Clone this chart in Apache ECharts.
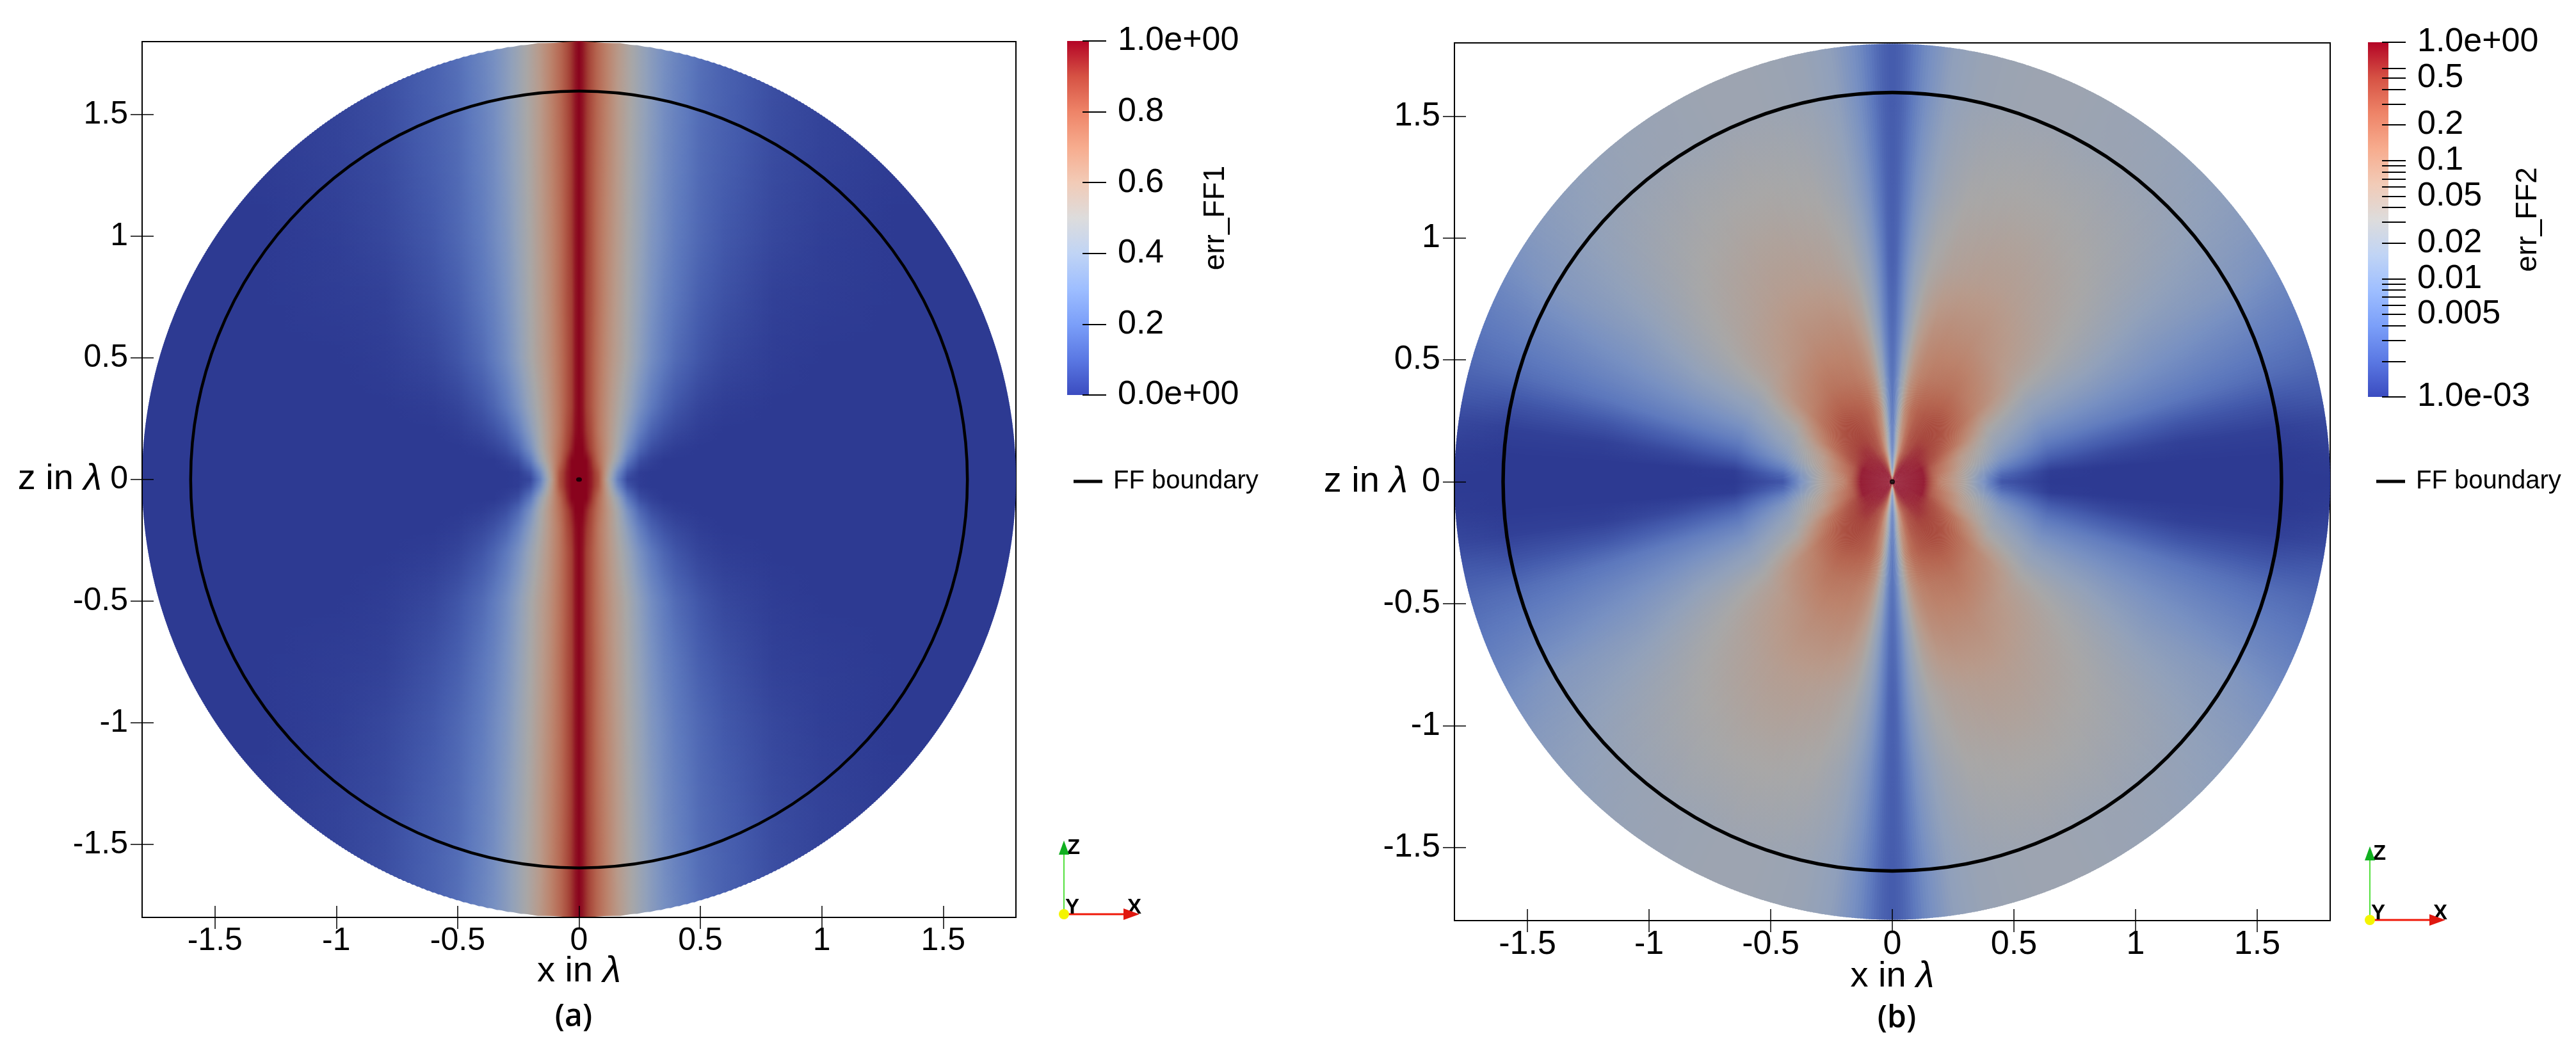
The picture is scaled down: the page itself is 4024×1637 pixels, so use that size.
<!DOCTYPE html>
<html><head><meta charset="utf-8">
<style>html,body{margin:0;padding:0;background:#fff}#c{width:4024px;height:1637px}</style>
<script src="https://cdn.jsdelivr.net/npm/echarts@6/dist/echarts.min.js"></script>
</head><body><div id="c"></div>
<script>
// axis ticks
const tickValues = [-1.5,-1,-0.5,0,0.5,1,1.5];
const ffRadius = 1.6;
const diskRadius = 1.8;
const centerDot = [[0,0]];

// panel (a): err_FF1 read at |x| (columns) and |z| (rows), one quadrant, mirrored
const xA = [0,.015,.03,.05,.08,.12,.16,.2,.25,.3,.35,.4,.5,.6,.8,1.0,1.3,1.8];
const zA = [0,.03,.08,.13,.2,.3,.5,.75,1.0,1.3,1.6,1.8];
const errA = [
 [1,1,1,.96,.85,.52,.22,.04,.01,0,0,0,0,0,0,0,0,0],
 [1,1,1,.96,.84,.55,.27,.08,.01,0,0,0,0,0,0,0,0,0],
 [1,1,1,.93,.78,.60,.42,.20,.06,.02,0,0,0,0,0,0,0,0],
 [1,1,.95,.88,.76,.62,.48,.30,.14,.06,.03,.01,0,0,0,0,0,0],
 [1,.98,.92,.86,.74,.62,.50,.37,.22,.12,.07,.04,.01,0,0,0,0,0],
 [1,.97,.90,.84,.74,.63,.53,.43,.30,.20,.13,.08,.03,.01,0,0,0,0],
 [1,.97,.90,.84,.75,.65,.57,.49,.38,.28,.21,.15,.08,.04,.01,0,0,0],
 [1,.97,.90,.85,.76,.66,.58,.50,.40,.31,.24,.19,.11,.07,.02,.01,0,0],
 [1,.97,.91,.85,.76,.67,.59,.51,.42,.33,.27,.21,.14,.09,.04,.015,0,0],
 [1,.97,.91,.85,.77,.68,.60,.52,.43,.35,.28,.23,.15,.11,.05,.025,.005,0],
 [1,.97,.92,.86,.78,.69,.60,.53,.44,.36,.29,.24,.16,.12,.06,.03,.01,0],
 [1,.97,.92,.86,.78,.69,.61,.53,.44,.36,.30,.25,.17,.12,.06,.03,.01,0]
];

// panel (b): err_FF2, position on the log colour bar, read at angle (rows, degrees from the x axis) and radius (columns)
const thetaB = [0,4,8,12,16,20,25,30,35,40,45,50,55,60,65,70,75,78,80,82,84,85.5,87,88,89,90];
const radiusB = [0,.03,.06,.13,.17,.2,.3,.45,.65,.9,1.2,1.6,1.8];
const errB = [
 [1,1,1,1,.83,.72,.52,.08,0,0,0,0,0],
 [1,1,1,1,.83,.72,.52,.15,.01,0,0,0,.01],
 [1,1,1,1,.83,.74,.53,.25,.09,.05,.02,.02,.04],
 [1,1,1,1,.84,.77,.56,.33,.17,.13,.09,.08,.1],
 [1,1,1,1,.85,.78,.58,.38,.24,.22,.19,.16,.15],
 [1,1,1,1,.86,.8,.6,.42,.3,.28,.25,.21,.19],
 [1,1,1,1,.89,.84,.66,.46,.37,.35,.31,.27,.24],
 [1,1,1,.98,.91,.87,.74,.52,.42,.41,.36,.34,.3],
 [1,1,1,.98,.92,.89,.78,.6,.49,.46,.41,.37,.35],
 [1,1,1,.97,.93,.9,.82,.68,.55,.5,.45,.4,.38],
 [1,1,1,.97,.94,.91,.84,.71,.59,.53,.48,.42,.4],
 [1,1,1,.96,.94,.91,.86,.73,.62,.55,.5,.43,.42],
 [1,1,1,.95,.93,.91,.86,.75,.64,.57,.51,.44,.43],
 [1,1,.99,.93,.91,.9,.85,.75,.66,.58,.52,.44,.44],
 [1,.99,.97,.9,.89,.88,.84,.74,.66,.58,.52,.45,.45],
 [1,.97,.94,.86,.85,.85,.82,.73,.66,.57,.51,.45,.45],
 [1,.92,.88,.78,.78,.78,.78,.7,.64,.55,.5,.44,.44],
 [1,.82,.77,.69,.69,.7,.72,.66,.6,.52,.47,.43,.43],
 [1,.75,.7,.64,.64,.66,.68,.62,.56,.5,.45,.41,.41],
 [1,.67,.6,.55,.57,.58,.6,.55,.5,.45,.41,.39,.39],
 [1,.58,.52,.46,.48,.5,.5,.46,.42,.4,.36,.33,.33],
 [1,.53,.47,.41,.42,.44,.43,.4,.36,.34,.31,.28,.28],
 [1,.49,.39,.33,.33,.35,.33,.3,.27,.26,.23,.21,.21],
 [1,.48,.35,.29,.28,.28,.28,.25,.22,.2,.18,.16,.16],
 [1,.46,.32,.25,.24,.24,.23,.2,.17,.14,.13,.12,.12],
 [1,.45,.3,.23,.22,.22,.2,.18,.15,.12,.11,.1,.1]
];

// colour map (cool to warm) and the surface shading of the rendered field
const cmapStops = [0,.1,.2,.3,.4,.5,.6,.7,.8,.9,1];
const cmapColors = [[59,76,192],[90,120,227],[123,159,249],[158,190,255],[192,212,245],[221,220,220],[242,203,183],[247,172,142],[238,132,104],[214,82,68],[180,4,38]];
const fieldShade = 0.76;

// colour bar ticks
const cbTicksA = [0,.2,.4,.6,.8,1];
const cbLabelsA = ['0.0e+00','0.2','0.4','0.6','0.8','1.0e+00'];
const cbTicksB = [1,.6,.5,.4,.3,.2,.1,.09,.08,.07,.06,.05,.04,.03,.02,.01,.009,.008,.007,.006,.005,.004,.003,.002,.001];
const cbLabelValuesB = [1,.5,.2,.1,.05,.02,.01,.005,.001];
const cbLabelsB = ['1.0e+00','0.5','0.2','0.1','0.05','0.02','0.01','0.005','1.0e-03'];

const FONT = '"Liberation Sans"';
function cmap(u, shade){
  u = Math.max(0, Math.min(1, u));
  const p = u*10, i = Math.min(9, Math.floor(p)), f = p-i;
  const a = cmapColors[i], b = cmapColors[i+1];
  const s = shade || 1;
  return 'rgb(' + [0,1,2].map(k => Math.round((a[k]+(b[k]-a[k])*f)*s)).join(',') + ')';
}
function stopsFrom(pos, vals, span){ // pos ascending, colour stops with in-between shading
  const out = [];
  for (let j=0;j<pos.length;j++){
    out.push({offset:pos[j]/span, color:cmap(vals[j], fieldShade)});
    if (j<pos.length-1){
      for (let m=1;m<4;m++){
        const t=m/4;
        out.push({offset:(pos[j]+(pos[j+1]-pos[j])*t)/span, color:cmap(vals[j]+(vals[j+1]-vals[j])*t, fieldShade)});
      }
    }
  }
  return out;
}
function renderA(params, api){
  const i = params.dataIndex;
  if (i >= zA.length-1) return null;
  const z0=zA[i], z1=zA[i+1], n=Math.ceil((z1-z0)/0.008);
  const xl=api.coord([-diskRadius,0])[0], xr=api.coord([diskRadius,0])[0];
  const children=[];
  const chord = z => Math.sqrt(Math.max(diskRadius*diskRadius-z*z,0));
  for (let k=0;k<n;k++){
    const za=z0+(z1-z0)*k/n, zb=z0+(z1-z0)*(k+1)/n, t=(k+.5)/n;
    const row=errA[i].map((v,j)=>v+(errA[i+1][j]-v)*t);
    const neg=xA.slice().reverse().map(x=>diskRadius-x);
    const pos=xA.map(x=>diskRadius+x);
    const allPos=neg.concat(pos.slice(1));
    const allVal=row.slice().reverse().concat(row.slice(1));
    const fill=new echarts.graphic.LinearGradient(xl,0,xr,0,stopsFrom(allPos,allVal,2*diskRadius),true);
    [1,-1].forEach(sg=>{
      const pa=api.coord([0,sg*za]), pb=api.coord([0,sg*zb]);
      const u=(xr-xl)/(2*diskRadius);
      const ov=sg*0.7;
      children.push({type:'polygon',silent:true,shape:{points:[
        [pa[0]-chord(za)*u,pa[1]+ov],[pa[0]+chord(za)*u,pa[1]+ov],
        [pb[0]+chord(zb)*u,pb[1]-ov],[pb[0]-chord(zb)*u,pb[1]-ov]]},style:{fill}});
    });
  }
  return {type:'group',children};
}
function renderB(params, api){
  const i = params.dataIndex;
  if (i >= thetaB.length-1) return null;
  const c=api.coord([0,0]), R=api.size([diskRadius,0])[0];
  const t0=thetaB[i], t1=thetaB[i+1], n=Math.ceil((t1-t0)/0.4), children=[], D=Math.PI/180, eps=0.12*D;
  for (let k=0;k<n;k++){
    const a=(t0+(t1-t0)*k/n)*D, b=(t0+(t1-t0)*(k+1)/n)*D, t=(k+.5)/n;
    const row=errB[i].map((v,j)=>v+(errB[i+1][j]-v)*t);
    const fill=new echarts.graphic.RadialGradient(c[0],c[1],R,stopsFrom(radiusB,row,diskRadius),true);
    [[-b,-a],[a,b],[Math.PI+a,Math.PI+b],[Math.PI-b,Math.PI-a]].forEach(s=>{
      children.push({type:'sector',silent:true,shape:{cx:c[0],cy:c[1],r0:0,r:R,startAngle:s[0]-eps,endAngle:s[1]+eps,clockwise:true},style:{fill}});
    });
  }
  return {type:'group',children};
}
function renderBar(params, api){
  const a=api.coord([0,api.value(1)]), b=api.coord([1,api.value(0)]);
  const stops=cmapStops.map((s,i)=>({offset:1-s,color:cmap(s)})).reverse();
  return {type:'rect',silent:true,shape:{x:a[0],y:a[1],width:b[0]-a[0],height:b[1]-a[1]},
    style:{fill:new echarts.graphic.LinearGradient(0,0,0,1,stops)}};
}
function mainX(gridIndex,nameGap,fs){
  return [{
    gridIndex,type:'value',min:-diskRadius,max:diskRadius,position:'bottom',z:10,
    splitLine:{show:false},axisLine:{show:true,onZero:false,lineStyle:{color:'#000',width:2}},
    axisTick:{show:true,length:18,customValues:tickValues,lineStyle:{color:'#000',width:1.5}},
    axisLabel:{show:true,margin:12,customValues:tickValues,formatter:v=>String(v),color:'#000',fontFamily:FONT,fontSize:fs},
    name:'x in {i|λ}',nameLocation:'middle',nameGap,nameMoveOverlap:false,nameTextStyle:{color:'#000',fontFamily:FONT,fontSize:56,rich:{i:{fontFamily:FONT,fontStyle:'italic',fontSize:58,color:'#000'}}}
  },{
    gridIndex,type:'value',min:-diskRadius,max:diskRadius,position:'bottom',z:10,
    splitLine:{show:false},axisLine:{show:false,onZero:false},
    axisTick:{show:true,inside:true,length:18,customValues:tickValues,lineStyle:{color:'#000',width:1.5}},
    axisLabel:{show:false}
  }];
}
function mainY(gridIndex,nameGap,fs){
  return [{
    gridIndex,type:'value',min:-diskRadius,max:diskRadius,position:'left',z:10,
    splitLine:{show:false},axisLine:{show:true,onZero:false,lineStyle:{color:'#000',width:2}},
    axisTick:{show:true,length:18,customValues:tickValues,lineStyle:{color:'#000',width:1.5}},
    axisLabel:{show:true,margin:22,customValues:tickValues,formatter:v=>String(v),color:'#000',fontFamily:FONT,fontSize:fs},
    name:'z in {i|λ}',nameLocation:'middle',nameRotate:0,nameGap,nameMoveOverlap:false,nameTextStyle:{color:'#000',fontFamily:FONT,fontSize:56,rich:{i:{fontFamily:FONT,fontStyle:'italic',fontSize:58,color:'#000'}}}
  },{
    gridIndex,type:'value',min:-diskRadius,max:diskRadius,position:'left',z:10,
    splitLine:{show:false},axisLine:{show:false,onZero:false},
    axisTick:{show:true,inside:true,length:18,customValues:tickValues,lineStyle:{color:'#000',width:1.5}},
    axisLabel:{show:false}
  }];
}
const hiddenX = gridIndex => ({gridIndex,type:'value',min:0,max:1,show:false});
function cbY(gridIndex,name,min,max,ticks,labelVals,labels,nameGap,pad){
  return {
    gridIndex,type:'value',min,max,position:'right',offset:27,z:10,splitLine:{show:false},
    axisLine:{show:false,onZero:false},
    axisTick:{show:true,inside:true,length:37,customValues:ticks,lineStyle:{color:'#000',width:2}},
    axisLabel:{show:true,margin:18,customValues:labelVals,padding:pad,color:'#000',fontFamily:FONT,fontSize:52,
      formatter:v=>{let b=0,d=1e9;labelVals.forEach((x,i)=>{if(Math.abs(x-v)<d){d=Math.abs(x-v);b=i;}});return labels[b];}},
    name,nameLocation:'middle',nameRotate:90,nameGap,nameMoveOverlap:false,nameTextStyle:{color:'#000',fontFamily:FONT,fontSize:46}
  };
}
const text=(x,y,t,size,extra)=>({type:'text',x,y,silent:true,z:20,style:Object.assign({text:t,fill:'#000',font:size+'px '+FONT,textAlign:'center',textVerticalAlign:'middle'},extra||{})});
function triad(x,y){
  const L={font:'bold 33px '+FONT};
  return [
    {type:'line',silent:true,z:20,shape:{x1:x,y1:y,x2:x,y2:y-95},style:{stroke:'#55e040',lineWidth:2}},
    {type:'polygon',silent:true,z:21,shape:{points:[[x,y-115],[x-8,y-93],[x+8,y-93]]},style:{fill:'#10b020'}},
    {type:'line',silent:true,z:20,shape:{x1:x,y1:y,x2:x+95,y2:y},style:{stroke:'#f01808',lineWidth:3}},
    {type:'polygon',silent:true,z:21,shape:{points:[[x+118,y],[x+93,y-9],[x+93,y+9]]},style:{fill:'#e01810'}},
    {type:'circle',silent:true,z:20,shape:{cx:x,cy:y,r:8},style:{fill:'#f4f400'}},
    text(x+15,y-103,'Z',33,L), text(x+13,y-10,'Y',33,L), text(x+110,y-10,'X',33,L)
  ];
}
const chart=echarts.init(document.getElementById('c'),null,{renderer:'canvas',width:4024,height:1637});
const log10=v=>Math.log10(v);
const ringSeries=(xi,yi,w)=>({name:'FF boundary',type:'custom',xAxisIndex:xi,yAxisIndex:yi,z:6,silent:true,clip:false,itemStyle:{color:'#000'},
  data:[[0,0,ffRadius]],renderItem:(p,api)=>{const c=api.coord([api.value(0),api.value(1)]),r=api.size([api.value(2),0])[0];
  return {type:'circle',silent:true,shape:{cx:c[0],cy:c[1],r},style:{fill:'none',stroke:'#000',lineWidth:w}};}});
const legendOf=(left)=>({left,top:727,orient:'horizontal',selectedMode:false,itemWidth:45,itemHeight:5,itemGap:0,
  data:[{name:'FF boundary',icon:'rect'}],textStyle:{color:'#000',fontFamily:FONT,fontSize:40,padding:[0,0,0,12]}});
chart.setOption({
  animation:false,backgroundColor:'#fff',
  grid:[
    {left:222,top:65,width:1365,height:1368,outerBoundsMode:'none',show:true,borderColor:'#000',borderWidth:2,backgroundColor:'transparent'},
    {left:1667,top:64,width:34,height:553,outerBoundsMode:'none'},
    {left:2272,top:67,width:1368,height:1371,outerBoundsMode:'none',show:true,borderColor:'#000',borderWidth:2,backgroundColor:'transparent'},
    {left:3699,top:66,width:32,height:554,outerBoundsMode:'none'}
  ],
  xAxis:[...mainX(0,56,50),hiddenX(1),...mainX(2,59,52),hiddenX(3)],
  yAxis:[...mainY(0,63,50),
    cbY(1,'err_FF1',0,1,cbTicksA,cbTicksA,cbLabelsA,148,[0,0,8,0]),
    ...mainY(2,73,52),
    cbY(3,'err_FF2',-3,0,cbTicksB.map(log10),cbLabelValuesB.map(log10),cbLabelsB,168,[0,0,8,0])],
  legend:[legendOf(1672),legendOf(3707)],
  graphic:{elements:[
    text(896,1589,'(a)',48,{font:'600 48px "Open Sans"'}),
    text(2963,1591,'(b)',48,{font:'600 48px "Open Sans"'}),
    ...triad(1662,1428),...triad(3702,1437)
  ]},
  tooltip:{show:false},
  series:[
    {type:'custom',name:'err_FF1',xAxisIndex:0,yAxisIndex:0,z:2,silent:true,clip:false,data:zA.map((z,i)=>[0,z].concat(errA[i])),renderItem:renderA},
    ringSeries(0,0,4.5),
    {type:'scatter',xAxisIndex:0,yAxisIndex:0,z:7,silent:true,data:centerDot,symbol:'circle',symbolSize:[9,7],itemStyle:{color:'#000'}},
    {type:'custom',xAxisIndex:2,yAxisIndex:2,z:3,silent:true,clip:false,data:[[0,1]],encode:{x:0,y:1},renderItem:renderBar},
    {type:'custom',name:'err_FF2',xAxisIndex:3,yAxisIndex:4,z:2,silent:true,clip:false,data:thetaB.map((t,i)=>[0,0].concat(errB[i])),renderItem:renderB},
    ringSeries(3,4,5.5),
    {type:'scatter',xAxisIndex:3,yAxisIndex:4,z:7,silent:true,data:centerDot,symbol:'circle',symbolSize:[8,8],itemStyle:{color:'#000'}},
    {type:'custom',xAxisIndex:5,yAxisIndex:5,z:3,silent:true,clip:false,data:[[-3,0]],encode:{x:0,y:1},renderItem:renderBar}
  ]
});
</script></body></html>
